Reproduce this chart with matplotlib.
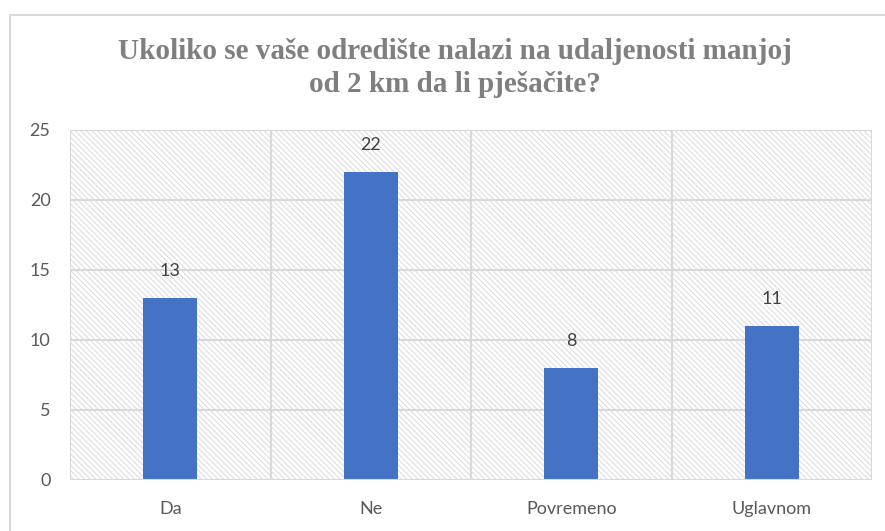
import matplotlib.pyplot as plt
from matplotlib.patches import Rectangle

categories = ["Da", "Ne", "Povremeno", "Uglavnom"]
values = [13, 22, 8, 11]
yticks = [0, 5, 10, 15, 20, 25]
title = "Ukoliko se vaše odredište nalazi na udaljenosti manjoj\nod 2 km da li pješačite?"

plt.rcParams['hatch.linewidth'] = 0.6

fig = plt.figure(figsize=(8.85, 5.31), dpi=100)
W, H = 885, 531

# outer chart border
fig.patches.append(Rectangle((10 / W, -0.1), 1.2, (H - 15) / H + 0.1,
                             transform=fig.transFigure, fill=False,
                             edgecolor='#d9d9d9', linewidth=1.5))

ax = fig.add_axes([70 / W, (H - 480) / H, (872 - 70) / W, (480 - 130) / H])

# hatched plot area background
ax.add_patch(Rectangle((0, 0), 1, 1, transform=ax.transAxes, facecolor='white',
                       edgecolor='#d4d4d4', linewidth=0, hatch=r'\\\\\\', zorder=0))

x = list(range(len(categories)))
ax.bar(x, values, width=0.27, color='#4472c4', zorder=3)
for xi, v in zip(x, values):
    ax.annotate(str(v), (xi, v), xytext=(0, 14), textcoords='offset points',
                ha='center', va='bottom', fontsize=13, color='#404040',
                family='Lato')

ax.set_xlim(-0.5, len(categories) - 0.5)
ax.set_ylim(0, 25)
ax.set_yticks(yticks)
ax.set_xticks(x)
ax.set_xticklabels(categories)

# grid: horizontal at ticks, vertical at category boundaries
for t in yticks[1:]:
    ax.axhline(t, color='#d9d9d9', linewidth=1.5, zorder=1)
for b in [-0.5, 0.5, 1.5, 2.5, 3.5]:
    ax.axvline(b, color='#d9d9d9', linewidth=1.5, zorder=1)
ax.axhline(0, color='#d9d9d9', linewidth=1.5, zorder=4)

for s in ax.spines.values():
    s.set_visible(False)
ax.tick_params(length=0, labelsize=13, colors='#595959')
for lab in ax.get_xticklabels() + ax.get_yticklabels():
    lab.set_family('Lato')
ax.tick_params(axis='y', pad=14)
ax.tick_params(axis='x', pad=15)

fig.text(455 / W, 1 - 68 / H, title, ha='center', va='center', fontsize=21,
         fontweight='bold', color='#7f7f7f', family='Liberation Serif',
         linespacing=1.3)

fig.savefig('out.png', dpi=100)
